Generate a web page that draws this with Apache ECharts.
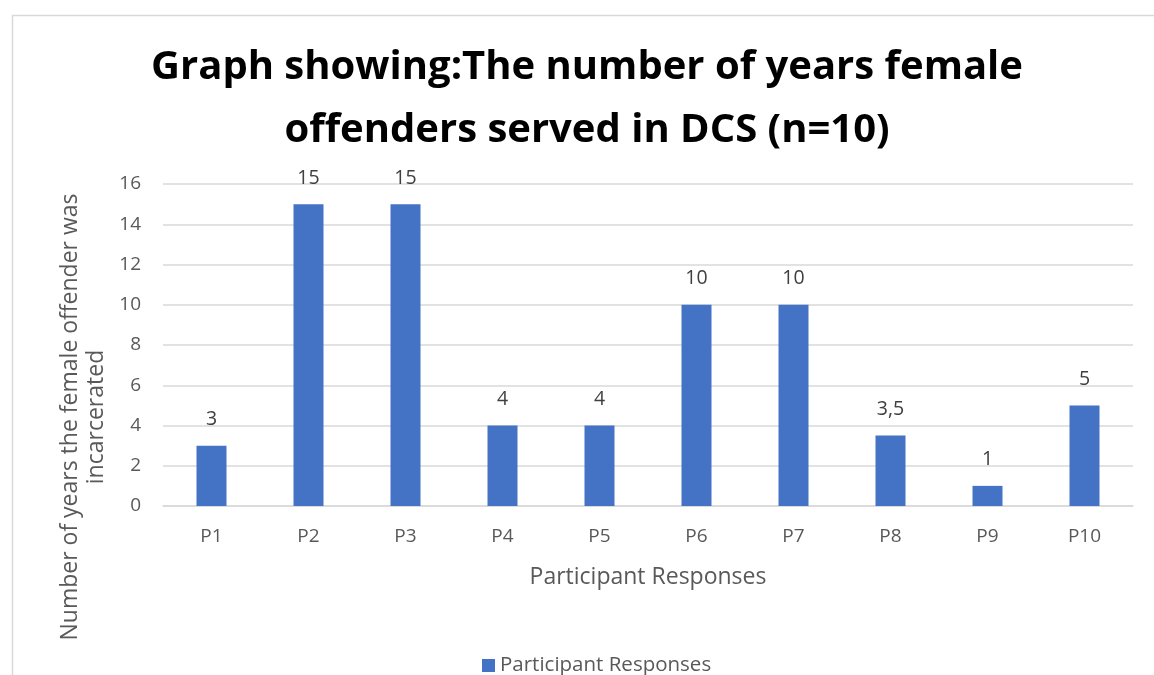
<!DOCTYPE html>
<html><head><meta charset="utf-8">
<script src="https://cdn.jsdelivr.net/npm/echarts@6/dist/echarts.min.js"></script>
<style>html,body{margin:0;padding:0;background:#fff}#c{width:1154px;height:675px}</style>
</head><body><div id="c"></div>
<script>
const categories = ['P1','P2','P3','P4','P5','P6','P7','P8','P9','P10'];
const values = [3, 15, 15, 4, 4, 10, 10, 3.5, 1, 5];
const titleLines = ['Graph showing:The number of years female', 'offenders served in DCS (n=10)'];
const yNameLines = ['Number of years the female offender was', 'incarcerated'];
const xName = 'Participant Responses';
const seriesName = 'Participant Responses';
const FONT = '"Open Sans", "Noto Sans", sans-serif';

const chart = echarts.init(document.getElementById('c'), null, {renderer: 'canvas'});
chart.setOption({
  animation: false,
  textStyle: {fontFamily: FONT},
  title: {
    text: titleLines.join('\n'),
    left: 582, textAlign: 'center', top: 31,
    textStyle: {fontFamily: FONT, fontSize: 40, fontWeight: 'bold', color: '#000', lineHeight: 63}
  },
  grid: {left: 163, right: 21, top: 184, bottom: 169, containLabel: false},
  legend: {
    data: [seriesName], top: 650, left: 477,
    icon: 'rect', itemWidth: 13, itemHeight: 13, itemGap: 6,
    textStyle: {fontFamily: FONT, fontSize: 20.5, color: '#595959'}
  },
  xAxis: {
    type: 'category', data: categories,
    name: xName, nameLocation: 'middle', nameGap: 60,
    nameTextStyle: {fontFamily: FONT, fontSize: 23, color: '#595959'},
    axisLine: {show: true, lineStyle: {color: '#d9d9d9', width: 1.5}},
    axisTick: {show: false},
    axisLabel: {fontFamily: FONT, fontSize: 19, color: '#595959', margin: 21}
  },
  yAxis: {
    type: 'value', min: 0, max: 16, interval: 2,
    axisLine: {show: false}, axisTick: {show: false},
    splitLine: {lineStyle: {color: '#d9d9d9', width: 1.5}},
    axisLabel: {fontFamily: FONT, fontSize: 19, color: '#595959', margin: 22}
  },
  series: [{
    name: seriesName, type: 'bar', data: values, barWidth: 30,
    itemStyle: {color: '#4472C4'},
    label: {show: true, position: 'top', distance: 16, fontFamily: FONT, fontSize: 19.5, color: '#404040',
      formatter: p => String(p.value).replace('.', ',')}
  }],
  graphic: [
    {type: 'rect', left: 10, top: 13, shape: {width: 1200, height: 700}, style: {fill: 'none', stroke: '#d9d9d9', lineWidth: 1.5}, silent: true},
    {type: 'text', x: 70, y: 417, rotation: Math.PI/2, style: {text: yNameLines[0], fontFamily: FONT, fontSize: 23, fill: '#595959', textAlign: 'center', textVerticalAlign: 'middle'}},
    {type: 'text', x: 96, y: 417, rotation: Math.PI/2, style: {text: yNameLines[1], fontFamily: FONT, fontSize: 23, fill: '#595959', textAlign: 'center', textVerticalAlign: 'middle'}}
  ]
});
</script></body></html>
